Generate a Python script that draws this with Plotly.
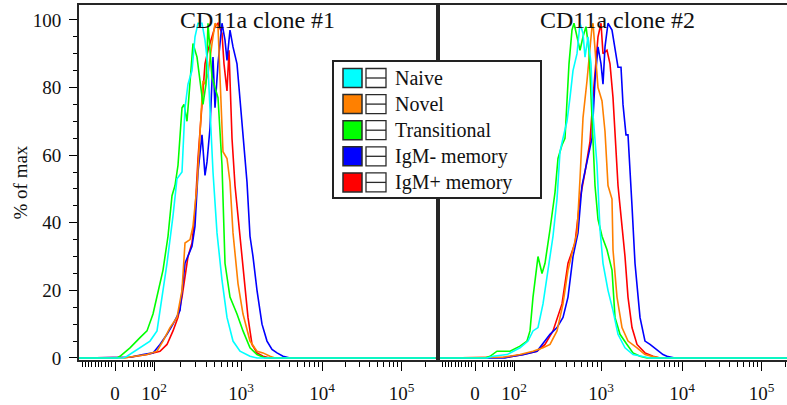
import numpy as np
import plotly.graph_objects as go

# ---------------- data ----------------
series_names = ["Naive", "Novel", "Transitional", "IgM- memory", "IgM+ memory"]
series_colors = ["#00FFFF", "#FF8000", "#00FF00", "#0000FF", "#FF0000"]
panel_titles = ["CD11a clone #1", "CD11a clone #2"]

# x = display channel of the biexponential scale, y = % of max
# ---- clone #1
naive1_x = [-36, 8, 12, 25, 35, 42, 48, 52, 58, 62, 67, 70, 73, 77, 80, 83, 87, 90, 93, 98, 102, 107, 112, 118, 125, 135, 142, 321]
naive1_y = [0, 0, 0.5, 3, 5, 8, 20, 28, 42, 53, 55, 74, 81, 85, 95, 99, 99, 94, 86, 55, 37, 23, 12, 5, 2, 0.5, 0, 0]
novel1_x = [-36, 10, 15, 32, 42, 48, 55, 62, 67, 70, 75, 78, 82, 85, 88, 90, 93, 97, 100, 103, 106, 108, 112, 115, 118, 123, 128, 135, 142, 148, 155, 160, 321]
novel1_y = [0, 0, 0.3, 1, 2, 5, 9, 12, 20, 34, 35, 39, 51, 67, 82, 81, 84, 93, 99, 98, 77, 61, 59, 52, 37, 22, 13, 5, 2, 1.5, 0.5, 0, 0]
trans1_x = [-36, 2, 5, 15, 25, 32, 38, 43, 48, 53, 57, 60, 63, 67, 69, 72, 75, 78, 82, 85, 88, 91, 93, 97, 102, 103, 107, 110, 115, 122, 128, 135, 142, 150, 321]
trans1_y = [0, 0, 0.5, 3, 6, 8, 13, 20, 26, 36, 48, 51, 57, 74, 75, 70, 81, 93, 89, 81, 75, 81, 99, 83, 78, 77, 57, 28, 18, 13, 8, 3, 1, 0, 0]
igmneg1_x = [-36, 10, 15, 28, 38, 45, 52, 58, 65, 70, 73, 77, 80, 83, 87, 90, 92, 95, 98, 100, 103, 107, 110, 112, 115, 118, 122, 127, 132, 135, 138, 142, 147, 152, 157, 162, 168, 175, 321]
igmneg1_y = [0, 0, 0.2, 1, 1.5, 4, 7, 10, 14, 28, 30, 33, 39, 55, 66, 54, 58, 68, 89, 74, 87, 99, 94, 88, 97, 92, 87, 69, 52, 36, 30, 20, 10, 5, 2.5, 1.5, 0.5, 0, 0]
igmpos1_x = [-36, 10, 15, 32, 45, 52, 58, 63, 67, 70, 73, 77, 80, 83, 87, 90, 93, 97, 100, 103, 107, 109, 112, 114, 117, 120, 125, 130, 133, 137, 142, 148, 155, 321]
igmpos1_y = [0, 0, 0.2, 1, 2, 4, 8, 12, 18, 24, 30, 34, 43, 59, 74, 87, 91, 95, 98, 99, 96, 87, 79, 91, 65, 51, 36, 20, 12, 4, 1.5, 0.5, 0, 0]

# ---- clone #2
naive2_x = [-37, 12, 18, 32, 45, 53, 58, 63, 68, 73, 78, 82, 85, 88, 92, 95, 98, 102, 105, 108, 110, 113, 116, 118, 122, 125, 128, 133, 138, 143, 150, 158, 168, 175, 312]
naive2_y = [0, 0, 0.5, 1, 3, 5, 8, 9, 16, 26, 36, 47, 61, 65, 70, 77, 85, 90, 99, 96, 89, 95, 87, 72, 57, 38, 28, 20, 14, 7, 3, 1, 0.4, 0, 0]
novel2_x = [-37, 22, 28, 45, 58, 68, 75, 82, 88, 93, 98, 102, 105, 108, 112, 114, 117, 118, 121, 123, 127, 130, 133, 137, 138, 142, 147, 153, 162, 170, 178, 185, 312]
novel2_y = [0, 0, 0.2, 1, 2, 3, 4, 8, 16, 26, 32, 37, 53, 71, 82, 89, 98, 99, 89, 80, 76, 67, 51, 47, 32, 18, 9, 5, 3, 1, 0.4, 0, 0]
trans2_x = [-37, 10, 15, 22, 35, 45, 52, 55, 58, 62, 63, 67, 70, 75, 80, 83, 87, 90, 92, 94, 97, 99, 102, 105, 108, 111, 114, 117, 120, 123, 127, 132, 137, 140, 145, 152, 158, 165, 172, 312]
trans2_y = [0, 0, 0.5, 2, 2, 3.5, 5, 8, 18, 28, 30, 25, 28, 38, 49, 59, 63, 65, 75, 87, 97, 99, 95, 91, 95, 98, 91, 69, 51, 41, 36, 32, 26, 12, 7, 4, 1.5, 0.5, 0, 0]
igmneg2_x = [-37, 30, 35, 48, 62, 70, 75, 82, 88, 93, 98, 103, 107, 112, 117, 120, 123, 126, 128, 130, 133, 137, 140, 143, 146, 148, 151, 153, 157, 160, 165, 170, 175, 182, 188, 193, 200, 312]
igmneg2_y = [0, 0, 0.4, 1, 2, 5, 7, 9, 12, 18, 30, 37, 51, 58, 65, 82, 92, 87, 81, 92, 99, 97, 92, 86, 86, 75, 66, 66, 45, 28, 12, 5, 4, 2.5, 1, 0.4, 0, 0]
igmpos2_x = [-37, 26, 32, 48, 62, 70, 78, 87, 93, 100, 105, 110, 115, 118, 121, 123, 126, 128, 132, 135, 138, 141, 143, 147, 150, 153, 157, 162, 170, 178, 185, 312]
igmpos2_y = [0, 0, 0.2, 1, 2, 4, 8, 16, 28, 34, 47, 55, 64, 77, 89, 95, 99, 90, 91, 87, 77, 63, 51, 39, 30, 18, 9, 4, 1.5, 0.5, 0, 0]

panel1 = {"Naive": (naive1_x, naive1_y), "Novel": (novel1_x, novel1_y),
          "Transitional": (trans1_x, trans1_y), "IgM- memory": (igmneg1_x, igmneg1_y),
          "IgM+ memory": (igmpos1_x, igmpos1_y)}
panel2 = {"Naive": (naive2_x, naive2_y), "Novel": (novel2_x, novel2_y),
          "Transitional": (trans2_x, trans2_y), "IgM- memory": (igmneg2_x, igmneg2_y),
          "IgM+ memory": (igmpos2_x, igmpos2_y)}

major_vals = [0, 1e2, 1e3, 1e4, 1e5]
major_text = ["0", "10<sup>2</sup>", "10<sup>3</sup>", "10<sup>4</sup>", "10<sup>5</sup>"]
minor_vals = ([-10 * k for k in range(1, 11)] + [10 * k for k in range(1, 10)]
              + [m * 10 ** e for e in (2, 3, 4) for m in range(2, 10)] + [2e5])


# biexponential display transform (intensity -> display channel)
def to_channel(v):
    v = np.asarray(v, dtype=float)
    out = np.zeros_like(v)
    neg = v < 0
    out[neg] = 0.33 * v[neg]
    low = (v >= 0) & (v < 100)
    out[low] = 39 * np.arcsinh(v[low] / 25) / np.arcsinh(4)
    high = v >= 100
    out[high] = np.interp(np.log10(v[high]), [2, 3, 4, 5, 6], [39, 126, 207, 286.5, 366])
    return out


# ---------------- figure ----------------
W, H = 787, 405
ML, MR, MT, MB = 79, 0, 5, 45
PW, PH = W - ML - MR, H - MT - MB


def px(x):
    return (x - ML) / PW


def py(y):
    return (H - MB - y) / PH


FONT = "Liberation Serif"
LINE = "#262626"

fig = go.Figure()
draw_order = ["IgM+ memory", "IgM- memory", "Novel", "Transitional", "Naive"]
for pi, panel in enumerate([panel1, panel2]):
    for name in draw_order:
        xs, ys = panel[name]
        col = series_colors[series_names.index(name)]
        fig.add_trace(go.Scatter(x=xs, y=ys, mode="lines", name=name,
                                 line=dict(color=col, width=1.6),
                                 xaxis="x" if pi == 0 else "x2",
                                 yaxis="y" if pi == 0 else "y2",
                                 showlegend=False, hoverinfo="skip"))

tickv = to_channel(major_vals).tolist()
minorv = to_channel(minor_vals).tolist()
xcommon = dict(tickmode="array", tickvals=tickv, ticktext=major_text,
               ticks="outside", ticklen=9, tickwidth=1.3, tickcolor="#000",
               minor=dict(tickmode="array", tickvals=minorv, ticks="outside",
                          ticklen=5, tickwidth=1, tickcolor="#000"),
               showline=True, linecolor=LINE, linewidth=1.8, mirror=True,
               showgrid=False, zeroline=False,
               tickfont=dict(family=FONT, size=19, color="#111"),
               ticklabelstandoff=6)
d1 = [0, px(435.5)]
d2 = [px(439.5), 1]
fig.update_layout(
    width=W, height=H, margin=dict(l=ML, r=MR, t=MT, b=MB, autoexpand=False),
    paper_bgcolor="white", plot_bgcolor="white", showlegend=False,
    xaxis=dict(domain=d1, range=[-36, 320.5], automargin=False, **xcommon),
    xaxis2=dict(domain=d2, range=[-35.5, 312], anchor="y2", automargin=False, **xcommon),
    yaxis=dict(domain=[0, 1], range=[-0.6, 104.4], tickmode="array", automargin=False,
               tickvals=[0, 20, 40, 60, 80, 100], ticks="outside", ticklen=8,
               tickwidth=1.3, tickcolor="#000",
               minor=dict(tickmode="array", tickvals=[5 * k for k in range(21) if k % 4],
                          ticks="outside", ticklen=4, tickwidth=1, tickcolor="#000"),
               showline=True, linecolor=LINE, linewidth=1.8, mirror=True,
               showgrid=False, zeroline=False,
               tickfont=dict(family=FONT, size=19, color="#111"),
               ticklabelstandoff=4),
    yaxis2=dict(domain=[0, 1], range=[-0.6, 104.4], anchor="x2", automargin=False,
                showticklabels=False, ticks="", showline=True, linecolor=LINE,
                linewidth=1.8, showgrid=False, zeroline=False),
)

ann = []
ann.append(dict(text=panel_titles[0], x=px(257.5), y=py(20), xref="paper", yref="paper",
                showarrow=False, xanchor="center", yanchor="middle",
                font=dict(family=FONT, size=24, color="#111")))
ann.append(dict(text=panel_titles[1], x=px(617), y=py(20), xref="paper", yref="paper",
                showarrow=False, xanchor="center", yanchor="middle",
                font=dict(family=FONT, size=24, color="#111")))
ann.append(dict(text="% of max", x=px(20), y=py(182.5), xref="paper", yref="paper",
                showarrow=False, xanchor="center", yanchor="middle", textangle=-90,
                font=dict(family=FONT, size=19, color="#111")))

shapes = []
shapes.append(dict(type="rect", xref="paper", yref="paper", x0=px(333), x1=px(541),
                   y0=py(198), y1=py(61), fillcolor="white",
                   line=dict(color="#222", width=2), layer="above"))
for i, (name, col) in enumerate(zip(series_names, series_colors)):
    cy = 78 + 26.1 * i
    shapes.append(dict(type="rect", xref="paper", yref="paper", x0=px(343), x1=px(362),
                       y0=py(cy + 9.5), y1=py(cy - 9.5), fillcolor=col,
                       line=dict(color="#2a2a2a", width=1.5), layer="above"))
    shapes.append(dict(type="rect", xref="paper", yref="paper", x0=px(366), x1=px(386),
                       y0=py(cy + 9.5), y1=py(cy - 9.5), fillcolor="white",
                       line=dict(color="#2a2a2a", width=1.3), layer="above"))
    shapes.append(dict(type="line", xref="paper", yref="paper", x0=px(366), x1=px(386),
                       y0=py(cy), y1=py(cy), line=dict(color="#2a2a2a", width=1.3),
                       layer="above"))
    ann.append(dict(text=name, x=px(393), y=py(cy), xref="paper", yref="paper",
                    showarrow=False, xanchor="left", yanchor="middle",
                    font=dict(family=FONT, size=20, color="#111")))

fig.update_layout(annotations=ann, shapes=shapes)
fig.write_html("out.html", config={"displayModeBar": False},
               post_script="document.body.style.margin='0';document.body.style.overflow='hidden';")
